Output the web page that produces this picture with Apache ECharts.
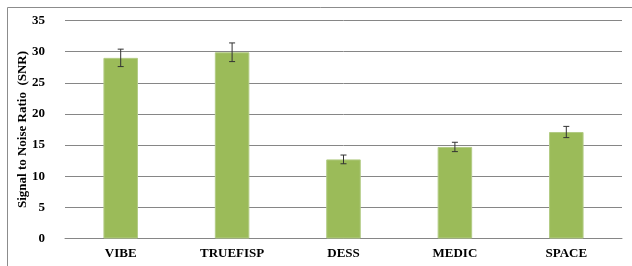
<!DOCTYPE html>
<html>
<head>
<meta charset="utf-8">
<script src="https://cdn.jsdelivr.net/npm/echarts@6/dist/echarts.min.js"></script>
<style>
  html, body { margin: 0; padding: 0; background: #fff; }
  #main { width: 632px; height: 266px; }
</style>
</head>
<body>
<div id="main"></div>
<script>
// sequences
const categories = ['VIBE', 'TRUEFISP', 'DESS', 'MEDIC', 'SPACE']
// mean SNR
const snr = [29.0, 29.9, 12.7, 14.7, 17.1]
// error (+/-)
const snrErr = [1.4, 1.5, 0.7, 0.75, 0.9]

const chart = echarts.init(document.getElementById('main'))

const errData = categories.map((c, i) => [i, snr[i] - snrErr[i], snr[i] + snrErr[i]])

const font = 'Liberation Serif, Times New Roman, serif'

const option = {
    animation: false,
    graphic: [{
        type: 'rect',
        shape: { x: 7.5, y: 7.5, width: 640, height: 270 },
        style: { fill: 'none', stroke: '#8c8c8c', lineWidth: 1 },
        silent: true
    }],
    grid: {
        left: 65,
        right: 10,
        top: 20.5,
        bottom: 27.5
    },
    xAxis: {
        type: 'category',
        data: categories,
        axisTick: { show: false },
        axisLine: { lineStyle: { color: '#868686', width: 1 } },
        axisLabel: {
            margin: 9,
            color: '#000',
            fontFamily: font,
            fontWeight: 'bold',
            fontSize: 13
        }
    },
    yAxis: {
        type: 'value',
        min: 0,
        max: 35,
        interval: 5,
        name: 'Signal to Noise Ratio  (SNR)',
        nameLocation: 'middle',
        nameGap: 36,
        nameMoveOverlap: false,
        nameTextStyle: {
            color: '#000',
            fontFamily: font,
            fontWeight: 'bold',
            fontSize: 13
        },
        axisLine: { show: false },
        axisTick: { show: false },
        axisLabel: {
            margin: 20,
            color: '#000',
            fontFamily: font,
            fontWeight: 'bold',
            fontSize: 13
        },
        splitLine: { lineStyle: { color: '#868686', width: 1 } }
    },
    series: [
        {
            type: 'bar',
            data: snr,
            barWidth: '31%',
            itemStyle: {
                color: '#9bbb59',
                borderColor: '#b3cc85',
                borderWidth: 1
            }
        },
        {
            type: 'custom',
            data: errData,
            z: 10,
            renderItem: function (params, api) {
                const lo = api.coord([api.value(0), api.value(1)])
                const hi = api.coord([api.value(0), api.value(2)])
                const hw = 3
                const style = { stroke: '#333', lineWidth: 1 }
                return {
                    type: 'group',
                    children: [
                        { type: 'line', shape: { x1: hi[0], y1: hi[1], x2: lo[0], y2: lo[1] }, style: style },
                        { type: 'line', shape: { x1: hi[0] - hw, y1: hi[1], x2: hi[0] + hw, y2: hi[1] }, style: style },
                        { type: 'line', shape: { x1: lo[0] - hw, y1: lo[1], x2: lo[0] + hw, y2: lo[1] }, style: style }
                    ]
                }
            }
        }
    ]
}

chart.setOption(option)
</script>
</body>
</html>
